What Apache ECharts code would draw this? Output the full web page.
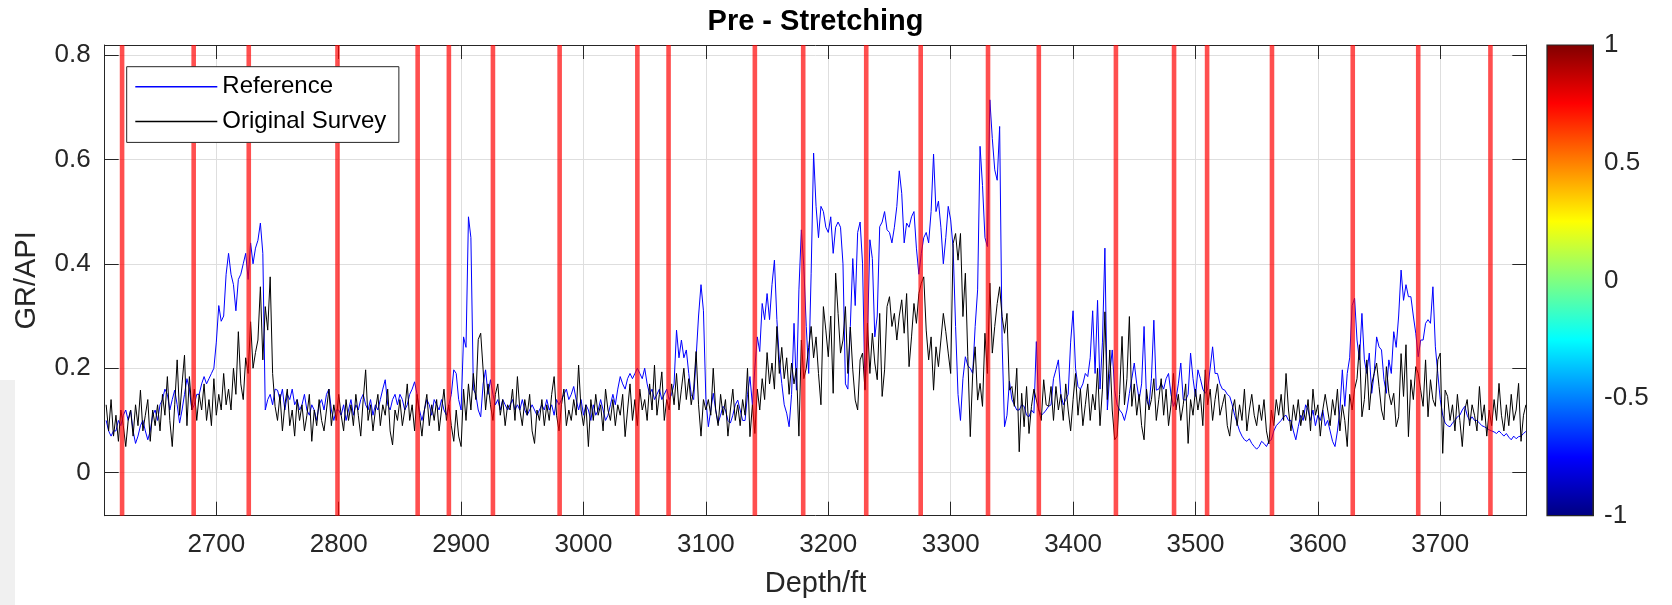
<!DOCTYPE html>
<html><head><meta charset="utf-8">
<script src="https://cdn.jsdelivr.net/npm/echarts@6/dist/echarts.min.js"></script>
<style>html,body{margin:0;padding:0;background:#fff}#chart{width:1672px;height:605px}</style>
</head><body><div id="chart"></div>
<script>
// Depth sampling of both logs (ft)
const DEPTH_START = 2610;
const DEPTH_STEP = 2;

// "Reference" GR/API (blue), one value per 2 ft from 2610 ft, 10 values per 20 ft row
const REFERENCE = [
0.10,0.08,0.07,0.08,0.08,0.10,0.09,0.11,0.12,0.10,
0.12,0.08,0.056,0.07,0.09,0.10,0.08,0.063,0.08,0.11,
0.12,0.10,0.13,0.14,0.16,0.15,0.12,0.14,0.158,0.13,
0.095,0.12,0.15,0.18,0.16,0.12,0.13,0.15,0.15,0.17,
0.184,0.17,0.18,0.19,0.20,0.25,0.32,0.29,0.30,0.38,
0.42,0.38,0.36,0.31,0.37,0.38,0.40,0.42,0.37,0.44,
0.40,0.43,0.445,0.478,0.42,0.12,0.14,0.15,0.13,0.16,
0.158,0.14,0.16,0.12,0.15,0.14,0.16,0.13,0.14,0.12,
0.13,0.15,0.12,0.11,0.13,0.12,0.10,0.13,0.14,0.12,
0.15,0.16,0.12,0.10,0.12,0.12,0.11,0.13,0.10,0.12,
0.14,0.11,0.13,0.12,0.14,0.15,0.13,0.12,0.14,0.11,
0.13,0.12,0.14,0.16,0.178,0.13,0.12,0.14,0.15,0.13,
0.15,0.14,0.12,0.13,0.15,0.16,0.174,0.15,0.12,0.10,
0.12,0.14,0.13,0.11,0.14,0.13,0.12,0.14,0.12,0.11,
0.13,0.15,0.197,0.19,0.14,0.12,0.26,0.24,0.49,0.45,
0.16,0.15,0.12,0.107,0.17,0.197,0.15,0.178,0.15,0.13,
0.14,0.12,0.14,0.13,0.12,0.13,0.14,0.12,0.13,0.12,
0.14,0.12,0.11,0.12,0.13,0.12,0.11,0.12,0.13,0.12,
0.14,0.12,0.13,0.11,0.14,0.13,0.14,0.15,0.16,0.14,
0.15,0.165,0.14,0.12,0.14,0.11,0.13,0.12,0.10,0.13,
0.11,0.12,0.14,0.12,0.10,0.11,0.13,0.15,0.13,0.16,
0.184,0.17,0.16,0.18,0.19,0.18,0.19,0.20,0.19,0.18,
0.20,0.17,0.15,0.16,0.14,0.15,0.16,0.14,0.15,0.16,
0.14,0.15,0.17,0.273,0.22,0.254,0.22,0.235,0.19,0.15,
0.14,0.22,0.30,0.36,0.31,0.14,0.088,0.12,0.152,0.12,
0.095,0.11,0.127,0.12,0.10,0.095,0.11,0.13,0.139,0.12,
0.10,0.10,0.15,0.184,0.13,0.20,0.26,0.232,0.324,0.293,
0.343,0.293,0.36,0.407,0.293,0.216,0.171,0.13,0.114,0.088,
0.15,0.286,0.158,0.35,0.465,0.395,0.28,0.19,0.382,0.612,
0.51,0.45,0.51,0.50,0.47,0.46,0.49,0.42,0.47,0.48,
0.47,0.40,0.17,0.16,0.28,0.41,0.32,0.46,0.48,0.40,
0.16,0.26,0.446,0.41,0.26,0.30,0.471,0.48,0.50,0.465,
0.46,0.44,0.47,0.51,0.578,0.535,0.44,0.478,0.47,0.49,
0.50,0.43,0.38,0.42,0.45,0.46,0.44,0.50,0.61,0.50,
0.52,0.47,0.40,0.45,0.51,0.484,0.43,0.28,0.15,0.10,
0.18,0.222,0.205,0.20,0.19,0.28,0.35,0.625,0.55,0.45,
0.433,0.714,0.64,0.58,0.56,0.663,0.25,0.088,0.11,0.175,
0.14,0.13,0.12,0.12,0.13,0.127,0.11,0.107,0.12,0.114,
0.251,0.12,0.11,0.114,0.12,0.127,0.13,0.18,0.197,0.216,
0.15,0.13,0.14,0.15,0.25,0.31,0.20,0.165,0.16,0.17,
0.19,0.184,0.22,0.31,0.19,0.33,0.16,0.25,0.43,0.12,
0.19,0.235,0.158,0.13,0.12,0.114,0.10,0.12,0.152,0.18,
0.21,0.17,0.14,0.17,0.28,0.14,0.127,0.18,0.292,0.158,
0.16,0.171,0.16,0.18,0.19,0.15,0.127,0.14,0.17,0.21,
0.14,0.139,0.15,0.229,0.18,0.146,0.197,0.18,0.16,0.152,
0.16,0.20,0.241,0.19,0.19,0.17,0.16,0.158,0.15,0.146,
0.13,0.11,0.095,0.08,0.07,0.063,0.06,0.065,0.056,0.05,
0.045,0.05,0.06,0.056,0.05,0.06,0.063,0.08,0.09,0.095,
0.10,0.107,0.11,0.10,0.10,0.08,0.063,0.088,0.11,0.10,
0.13,0.12,0.10,0.12,0.09,0.11,0.10,0.12,0.09,0.10,
0.08,0.06,0.05,0.08,0.12,0.197,0.127,0.19,0.22,0.32,
0.334,0.254,0.216,0.305,0.216,0.19,0.229,0.152,0.19,0.26,
0.241,0.235,0.178,0.152,0.216,0.19,0.27,0.24,0.30,0.388,
0.33,0.36,0.337,0.337,0.30,0.267,0.222,0.254,0.254,0.286,
0.293,0.286,0.356,0.241,0.19,0.14,0.11,0.095,0.09,0.088,
0.095,0.10,0.107,0.11,0.12,0.127,0.11,0.10,0.107,0.10,
0.10,0.095,0.09,0.088,0.085,0.082,0.08,0.078,0.075,0.08,
0.075,0.07,0.075,0.068,0.063,0.07,0.065,0.069,0.07,0.075,
0.079
];

// "Original Survey" GR/API (black), same sampling
const ORIGINAL = [
0.13,0.08,0.14,0.07,0.11,0.06,0.12,0.09,0.05,0.10,
0.12,0.07,0.13,0.09,0.158,0.08,0.11,0.14,0.06,0.12,
0.09,0.13,0.08,0.15,0.11,0.184,0.10,0.05,0.13,0.216,
0.11,0.17,0.225,0.09,0.184,0.12,0.16,0.10,0.15,0.12,
0.17,0.10,0.14,0.09,0.18,0.11,0.15,0.12,0.19,0.13,
0.16,0.12,0.20,0.15,0.27,0.17,0.14,0.22,0.19,0.289,
0.20,0.23,0.254,0.356,0.216,0.318,0.273,0.375,0.19,0.127,
0.10,0.15,0.08,0.13,0.16,0.09,0.12,0.07,0.14,0.10,
0.13,0.08,0.11,0.15,0.06,0.12,0.09,0.14,0.10,0.08,
0.12,0.16,0.09,0.13,0.10,0.15,0.11,0.08,0.14,0.10,
0.13,0.09,0.15,0.11,0.07,0.14,0.197,0.10,0.13,0.08,
0.12,0.15,0.09,0.13,0.11,0.16,0.08,0.053,0.12,0.10,
0.14,0.09,0.12,0.17,0.10,0.13,0.08,0.15,0.11,0.07,
0.12,0.15,0.09,0.13,0.10,0.14,0.08,0.12,0.16,0.10,
0.13,0.09,0.06,0.12,0.07,0.05,0.16,0.10,0.17,0.12,
0.19,0.14,0.255,0.267,0.197,0.12,0.17,0.13,0.10,0.15,
0.17,0.11,0.14,0.09,0.13,0.12,0.16,0.10,0.184,0.12,
0.09,0.14,0.11,0.15,0.08,0.056,0.12,0.10,0.14,0.09,
0.13,0.10,0.15,0.184,0.11,0.08,0.13,0.16,0.09,0.12,
0.10,0.14,0.11,0.206,0.12,0.09,0.13,0.05,0.14,0.10,
0.15,0.11,0.13,0.08,0.16,0.12,0.10,0.14,0.09,0.13,
0.11,0.15,0.069,0.12,0.17,0.10,0.14,0.09,0.16,0.12,
0.14,0.10,0.17,0.12,0.206,0.11,0.15,0.193,0.10,0.14,
0.12,0.17,0.13,0.19,0.12,0.16,0.20,0.14,0.18,0.13,
0.16,0.232,0.13,0.07,0.14,0.12,0.14,0.11,0.20,0.12,
0.09,0.15,0.11,0.14,0.07,0.12,0.16,0.10,0.13,0.09,
0.14,0.11,0.20,0.069,0.13,0.075,0.16,0.12,0.18,0.14,
0.23,0.17,0.21,0.16,0.28,0.19,0.24,0.18,0.22,0.15,
0.21,0.17,0.20,0.07,0.254,0.18,0.20,0.24,0.28,0.22,
0.26,0.19,0.13,0.318,0.273,0.222,0.30,0.152,0.382,0.305,
0.229,0.254,0.318,0.19,0.279,0.197,0.139,0.12,0.216,0.229,
0.158,0.286,0.19,0.267,0.21,0.178,0.305,0.146,0.197,0.318,
0.337,0.28,0.305,0.254,0.30,0.331,0.267,0.343,0.203,0.26,
0.324,0.286,0.343,0.363,0.375,0.273,0.216,0.26,0.158,0.241,
0.203,0.254,0.305,0.27,0.229,0.19,0.439,0.458,0.407,0.458,
0.299,0.382,0.222,0.069,0.19,0.241,0.139,0.171,0.127,0.267,
0.19,0.363,0.229,0.28,0.324,0.356,0.299,0.267,0.305,0.158,
0.165,0.127,0.20,0.04,0.152,0.088,0.165,0.075,0.127,0.16,
0.139,0.12,0.10,0.178,0.13,0.127,0.165,0.10,0.165,0.12,
0.15,0.10,0.17,0.12,0.08,0.14,0.19,0.11,0.16,0.09,
0.13,0.17,0.10,0.15,0.12,0.20,0.09,0.16,0.308,0.14,
0.235,0.12,0.063,0.07,0.15,0.261,0.13,0.18,0.299,0.127,
0.17,0.11,0.15,0.09,0.063,0.16,0.12,0.14,0.18,0.10,
0.14,0.18,0.11,0.16,0.09,0.13,0.19,0.12,0.15,0.10,
0.13,0.17,0.056,0.14,0.11,0.16,0.12,0.15,0.09,0.197,
0.13,0.16,0.10,0.14,0.17,0.11,0.13,0.15,0.09,0.07,
0.12,0.14,0.09,0.13,0.10,0.16,0.08,0.12,0.15,0.11,
0.09,0.13,0.10,0.14,0.08,0.055,0.12,0.09,0.14,0.11,
0.15,0.10,0.19,0.12,0.08,0.13,0.10,0.14,0.09,0.12,
0.10,0.14,0.08,0.16,0.11,0.13,0.07,0.12,0.15,0.12,
0.09,0.14,0.11,0.16,0.08,0.13,0.10,0.05,0.15,0.12,
0.16,0.18,0.245,0.107,0.14,0.216,0.12,0.17,0.19,0.21,
0.165,0.12,0.101,0.203,0.152,0.13,0.152,0.088,0.107,0.228,
0.146,0.245,0.069,0.178,0.14,0.203,0.19,0.158,0.127,0.216,
0.107,0.178,0.14,0.127,0.216,0.229,0.037,0.158,0.146,0.10,
0.13,0.08,0.15,0.10,0.05,0.12,0.14,0.09,0.13,0.11,
0.08,0.165,0.10,0.13,0.07,0.12,0.09,0.14,0.10,0.171,
0.11,0.08,0.13,0.09,0.15,0.10,0.12,0.171,0.06,0.11,
0.13
];

// Depths of the red marker lines (ft)
const RED_LINES = [2623, 2681.5, 2726.5, 2799, 2864.5, 2890, 2926, 2980.5, 3044, 3069.5,
  3140, 3179.5, 3231, 3275.5, 3330.5, 3372, 3435, 3482.5, 3509.5, 3562.5, 3628.5, 3682, 3741];

const X_TICKS = [2700, 2800, 2900, 3000, 3100, 3200, 3300, 3400, 3500, 3600, 3700];
const Y_TICKS = [0, 0.2, 0.4, 0.6, 0.8];
const X_RANGE = [2608.8, 3770.3];
const Y_RANGE = [-0.0824, 0.819];
const CBAR_RANGE = [-1, 1];
const CBAR_STEP = 0.5;

const FONT = "'Liberation Sans', Arial, Helvetica, sans-serif";
const AX = '#262626';

const toPairs = arr => arr.map((v, i) => [DEPTH_START + i * DEPTH_STEP, v]);
const plainNum = v => String(v);

const jetStops = [
  {offset: 0, color: '#800000'},
  {offset: 0.125, color: '#ff0000'},
  {offset: 0.375, color: '#ffff00'},
  {offset: 0.5, color: '#80ff80'},
  {offset: 0.625, color: '#00ffff'},
  {offset: 0.875, color: '#0000ff'},
  {offset: 1, color: '#000080'}
];

const chart = echarts.init(document.getElementById('chart'), null, {renderer: 'canvas'});

const baseAxisLine = {show: true, onZero: false, lineStyle: {color: AX, width: 1}};

chart.setOption({
  animation: false,
  backgroundColor: '#ffffff',
  title: {
    text: 'Pre - Stretching',
    left: 815.5, top: 7, padding: 0, textAlign: 'center',
    textStyle: {fontFamily: FONT, fontSize: 29, fontWeight: 'bold', color: '#000'}
  },
  legend: {
    data: ['Reference', 'Original Survey'],
    orient: 'vertical',
    left: 126.7, top: 66.7,
    padding: [8, 12.5, 9, 8.6],
    itemWidth: 82, itemHeight: 1.5, itemGap: 10.7,
    icon: 'rect',
    selectedMode: false,
    backgroundColor: '#ffffff',
    borderColor: AX, borderWidth: 1, borderRadius: 0,
    textStyle: {fontFamily: FONT, fontSize: 24, color: '#000'}
  },
  graphic: [{
    type: 'rect', left: 0, top: 380, silent: true, z: 0,
    shape: {width: 15, height: 225}, style: {fill: '#f0f0f0'}
  }],
  grid: [
    {left: 104.7, top: 45, width: 1421.6, height: 470.7, containLabel: false},
    {left: 1547, top: 45, width: 46, height: 470.7, containLabel: false}
  ],
  xAxis: [
    {
      type: 'value', gridIndex: 0, min: X_RANGE[0], max: X_RANGE[1], position: 'bottom',
      axisLine: baseAxisLine,
      axisTick: {show: true, inside: true, length: 14, lineStyle: {color: AX}, customValues: X_TICKS},
      axisLabel: {customValues: X_TICKS, formatter: plainNum, fontFamily: FONT, fontSize: 26, color: AX, margin: 16.5},
      splitLine: {show: true, lineStyle: {color: '#dedede', width: 1}},
      name: 'Depth/ft', nameLocation: 'middle', nameGap: 54,
      nameTextStyle: {fontFamily: FONT, fontSize: 29, color: AX}
    },
    {
      type: 'value', gridIndex: 0, min: X_RANGE[0], max: X_RANGE[1], position: 'top',
      axisLine: baseAxisLine,
      axisTick: {show: true, inside: true, length: 14, lineStyle: {color: AX}, customValues: X_TICKS},
      axisLabel: {show: false}, splitLine: {show: false}
    },
    {type: 'value', gridIndex: 1, min: 0, max: 1, show: false}
  ],
  yAxis: [
    {
      type: 'value', gridIndex: 0, min: Y_RANGE[0], max: Y_RANGE[1], position: 'left',
      axisLine: baseAxisLine,
      axisTick: {show: true, inside: true, length: 14, lineStyle: {color: AX}, customValues: Y_TICKS},
      axisLabel: {customValues: Y_TICKS, formatter: plainNum, fontFamily: FONT, fontSize: 26, color: AX, margin: 14},
      splitLine: {show: true, lineStyle: {color: '#dedede', width: 1}},
      name: 'GR/API', nameLocation: 'middle', nameGap: 63,
      nameTextStyle: {fontFamily: FONT, fontSize: 29, color: AX}
    },
    {
      type: 'value', gridIndex: 0, min: Y_RANGE[0], max: Y_RANGE[1], position: 'right',
      axisLine: baseAxisLine,
      axisTick: {show: true, inside: true, length: 14, lineStyle: {color: AX}, customValues: Y_TICKS},
      axisLabel: {show: false}, splitLine: {show: false}
    },
    {
      type: 'value', gridIndex: 1, min: CBAR_RANGE[0], max: CBAR_RANGE[1], interval: CBAR_STEP,
      position: 'right',
      axisLine: baseAxisLine,
      axisTick: {show: true, inside: true, length: 6, lineStyle: {color: AX}},
      axisLabel: {formatter: plainNum, fontFamily: FONT, fontSize: 26, color: AX, margin: 11},
      splitLine: {show: false}
    }
  ],
  series: [
    {
      name: 'Reference', type: 'line', xAxisIndex: 0, yAxisIndex: 0,
      data: toPairs(REFERENCE), symbol: 'none', showSymbol: false, sampling: 'none',
      color: '#0000ff', itemStyle: {color: '#0000ff'},
      lineStyle: {color: '#0000ff', width: 1}, z: 2
    },
    {
      name: 'Original Survey', type: 'line', xAxisIndex: 0, yAxisIndex: 0,
      data: toPairs(ORIGINAL), symbol: 'none', showSymbol: false, sampling: 'none',
      color: '#000000', itemStyle: {color: '#000000'},
      lineStyle: {color: '#000000', width: 1}, z: 2
    },
    {
      name: 'markers', type: 'custom', xAxisIndex: 0, yAxisIndex: 0, z: 3, silent: true,
      data: RED_LINES.map(d => [d, 0]),
      renderItem: function (params, api) {
        const d = api.value(0);
        const p0 = api.coord([d, Y_RANGE[1]]);
        const p1 = api.coord([d, Y_RANGE[0]]);
        return {type: 'line', shape: {x1: p0[0], y1: p0[1], x2: p1[0], y2: p1[1]},
          style: {stroke: 'rgba(255,0,0,0.69)', lineWidth: 4.6}};
      }
    },
    {
      name: 'colorbar', type: 'custom', xAxisIndex: 2, yAxisIndex: 2, z: 2, silent: true,
      data: [[0, CBAR_RANGE[0]]],
      renderItem: function (params, api) {
        const p0 = api.coord([0, CBAR_RANGE[1]]);
        const p1 = api.coord([1, CBAR_RANGE[0]]);
        return {type: 'rect',
          shape: {x: p0[0], y: p0[1], width: p1[0] - p0[0], height: p1[1] - p0[1]},
          style: {fill: new echarts.graphic.LinearGradient(0, 0, 0, 1, jetStops), stroke: AX, lineWidth: 1.2}};
      }
    }
  ]
});
</script>
</body></html>
